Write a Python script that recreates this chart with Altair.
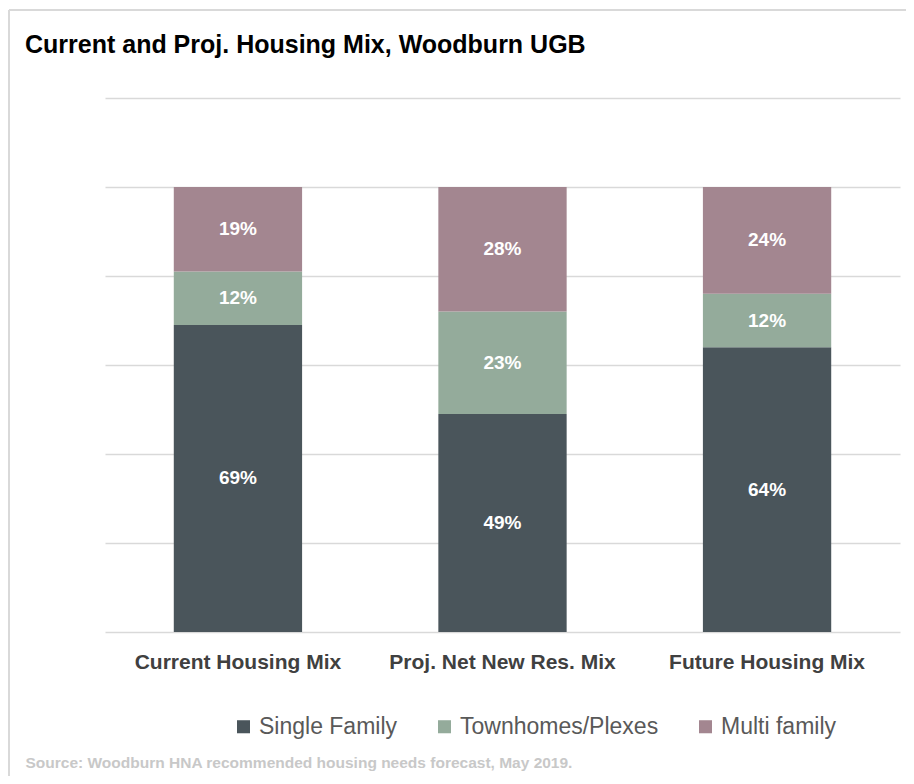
import altair as alt
import pandas as pd

categories = ["Current Housing Mix", "Proj. Net New Res. Mix", "Future Housing Mix"]
series = ["Single Family", "Townhomes/Plexes", "Multi family"]
single_family = [69, 49, 64]
townhomes = [12, 23, 12]
multi_family = [19, 28, 24]
colors = ["#4a555b", "#94ab9b", "#a38690"]

rows = []
for i, cat in enumerate(categories):
    for j, (s, vals) in enumerate(zip(series, [single_family, townhomes, multi_family])):
        rows.append({"category": cat, "series": s, "value": vals[i], "order": j,
                     "label": f"{vals[i]}%"})
df = pd.DataFrame(rows)

base = alt.Chart(df).transform_stack(
    stack="value", groupby=["category"], sort=[alt.SortField("order")], as_=["y0", "y1"]
).transform_calculate(mid="(datum.y0 + datum.y1) / 2")

xenc = alt.X("category:N", sort=categories,
             scale=alt.Scale(paddingInner=0.515, paddingOuter=0.26),
             axis=alt.Axis(title="Source: Woodburn HNA recommended housing needs forecast, May 2019.",
                           titleFontSize=15.5, titleColor="#c8c8c8", titleFontWeight="bold",
                           titleFont="Liberation Sans", titleAnchor="start", titleAlign="left",
                           titleX=-80, titleY=135, titleBaseline="alphabetic",
                           labelFont="Liberation Sans", labelFontSize=21, labelFontWeight="bold",
                           labelColor="#404040", labelPadding=19, labelAngle=0, labelLimit=0,
                           ticks=False, domain=False))

yscale = alt.Scale(domain=[0, 120])

bars = base.mark_bar().encode(
    x=xenc,
    y=alt.Y("y0:Q", scale=yscale,
            axis=alt.Axis(values=[0, 20, 40, 60, 80, 100, 120], labels=False, ticks=False,
                          domain=False, title=None, gridColor="#d9d9d9", gridWidth=1.5)),
    y2="y1:Q",
    color=alt.Color("series:N", sort=series,
                    scale=alt.Scale(domain=series, range=colors),
                    legend=alt.Legend(title=None, orient="none", direction="horizontal",
                                      legendX=127, legendY=617, labelLimit=0,
                                      labelFont="Liberation Sans", labelFontSize=23,
                                      labelColor="#595959", symbolType="square",
                                      symbolSize=170, symbolStrokeWidth=0,
                                      columnPadding=35, labelOffset=4)),
    order=alt.Order("order:Q"),
)

labels = base.mark_text(color="white", font="Liberation Sans", fontSize=19,
                        fontWeight="bold", baseline="middle").encode(
    x=alt.X("category:N", sort=categories),
    y=alt.Y("mid:Q", scale=yscale),
    text="label:N",
)

frame_df = pd.DataFrame({"k": [0]})
top_line = alt.Chart(frame_df).mark_rule(color="#d9d9d9", strokeWidth=2).encode(
    x=alt.value(-96), x2=alt.value(801), y=alt.value(-88))
left_line = alt.Chart(frame_df).mark_rule(color="#d9d9d9", strokeWidth=2).encode(
    x=alt.value(-96), y=alt.value(-88), y2=alt.value(680))

chart = alt.layer(bars, labels, top_line, left_line).properties(
    width=795, height=534,
    autosize=alt.AutoSizeParams(type="none"),
    padding={"left": 97, "top": 90, "right": 6, "bottom": 144},
    title=alt.Title("Current and Proj. Housing Mix, Woodburn UGB", anchor="start",
                    frame="group", dx=-80, offset=0, dy=49, font="Liberation Sans",
                    fontSize=25, fontWeight="bold", color="#000000"),
).configure_view(stroke=None)

chart.save("out.html", embed_options={"renderer": "svg", "actions": False})
